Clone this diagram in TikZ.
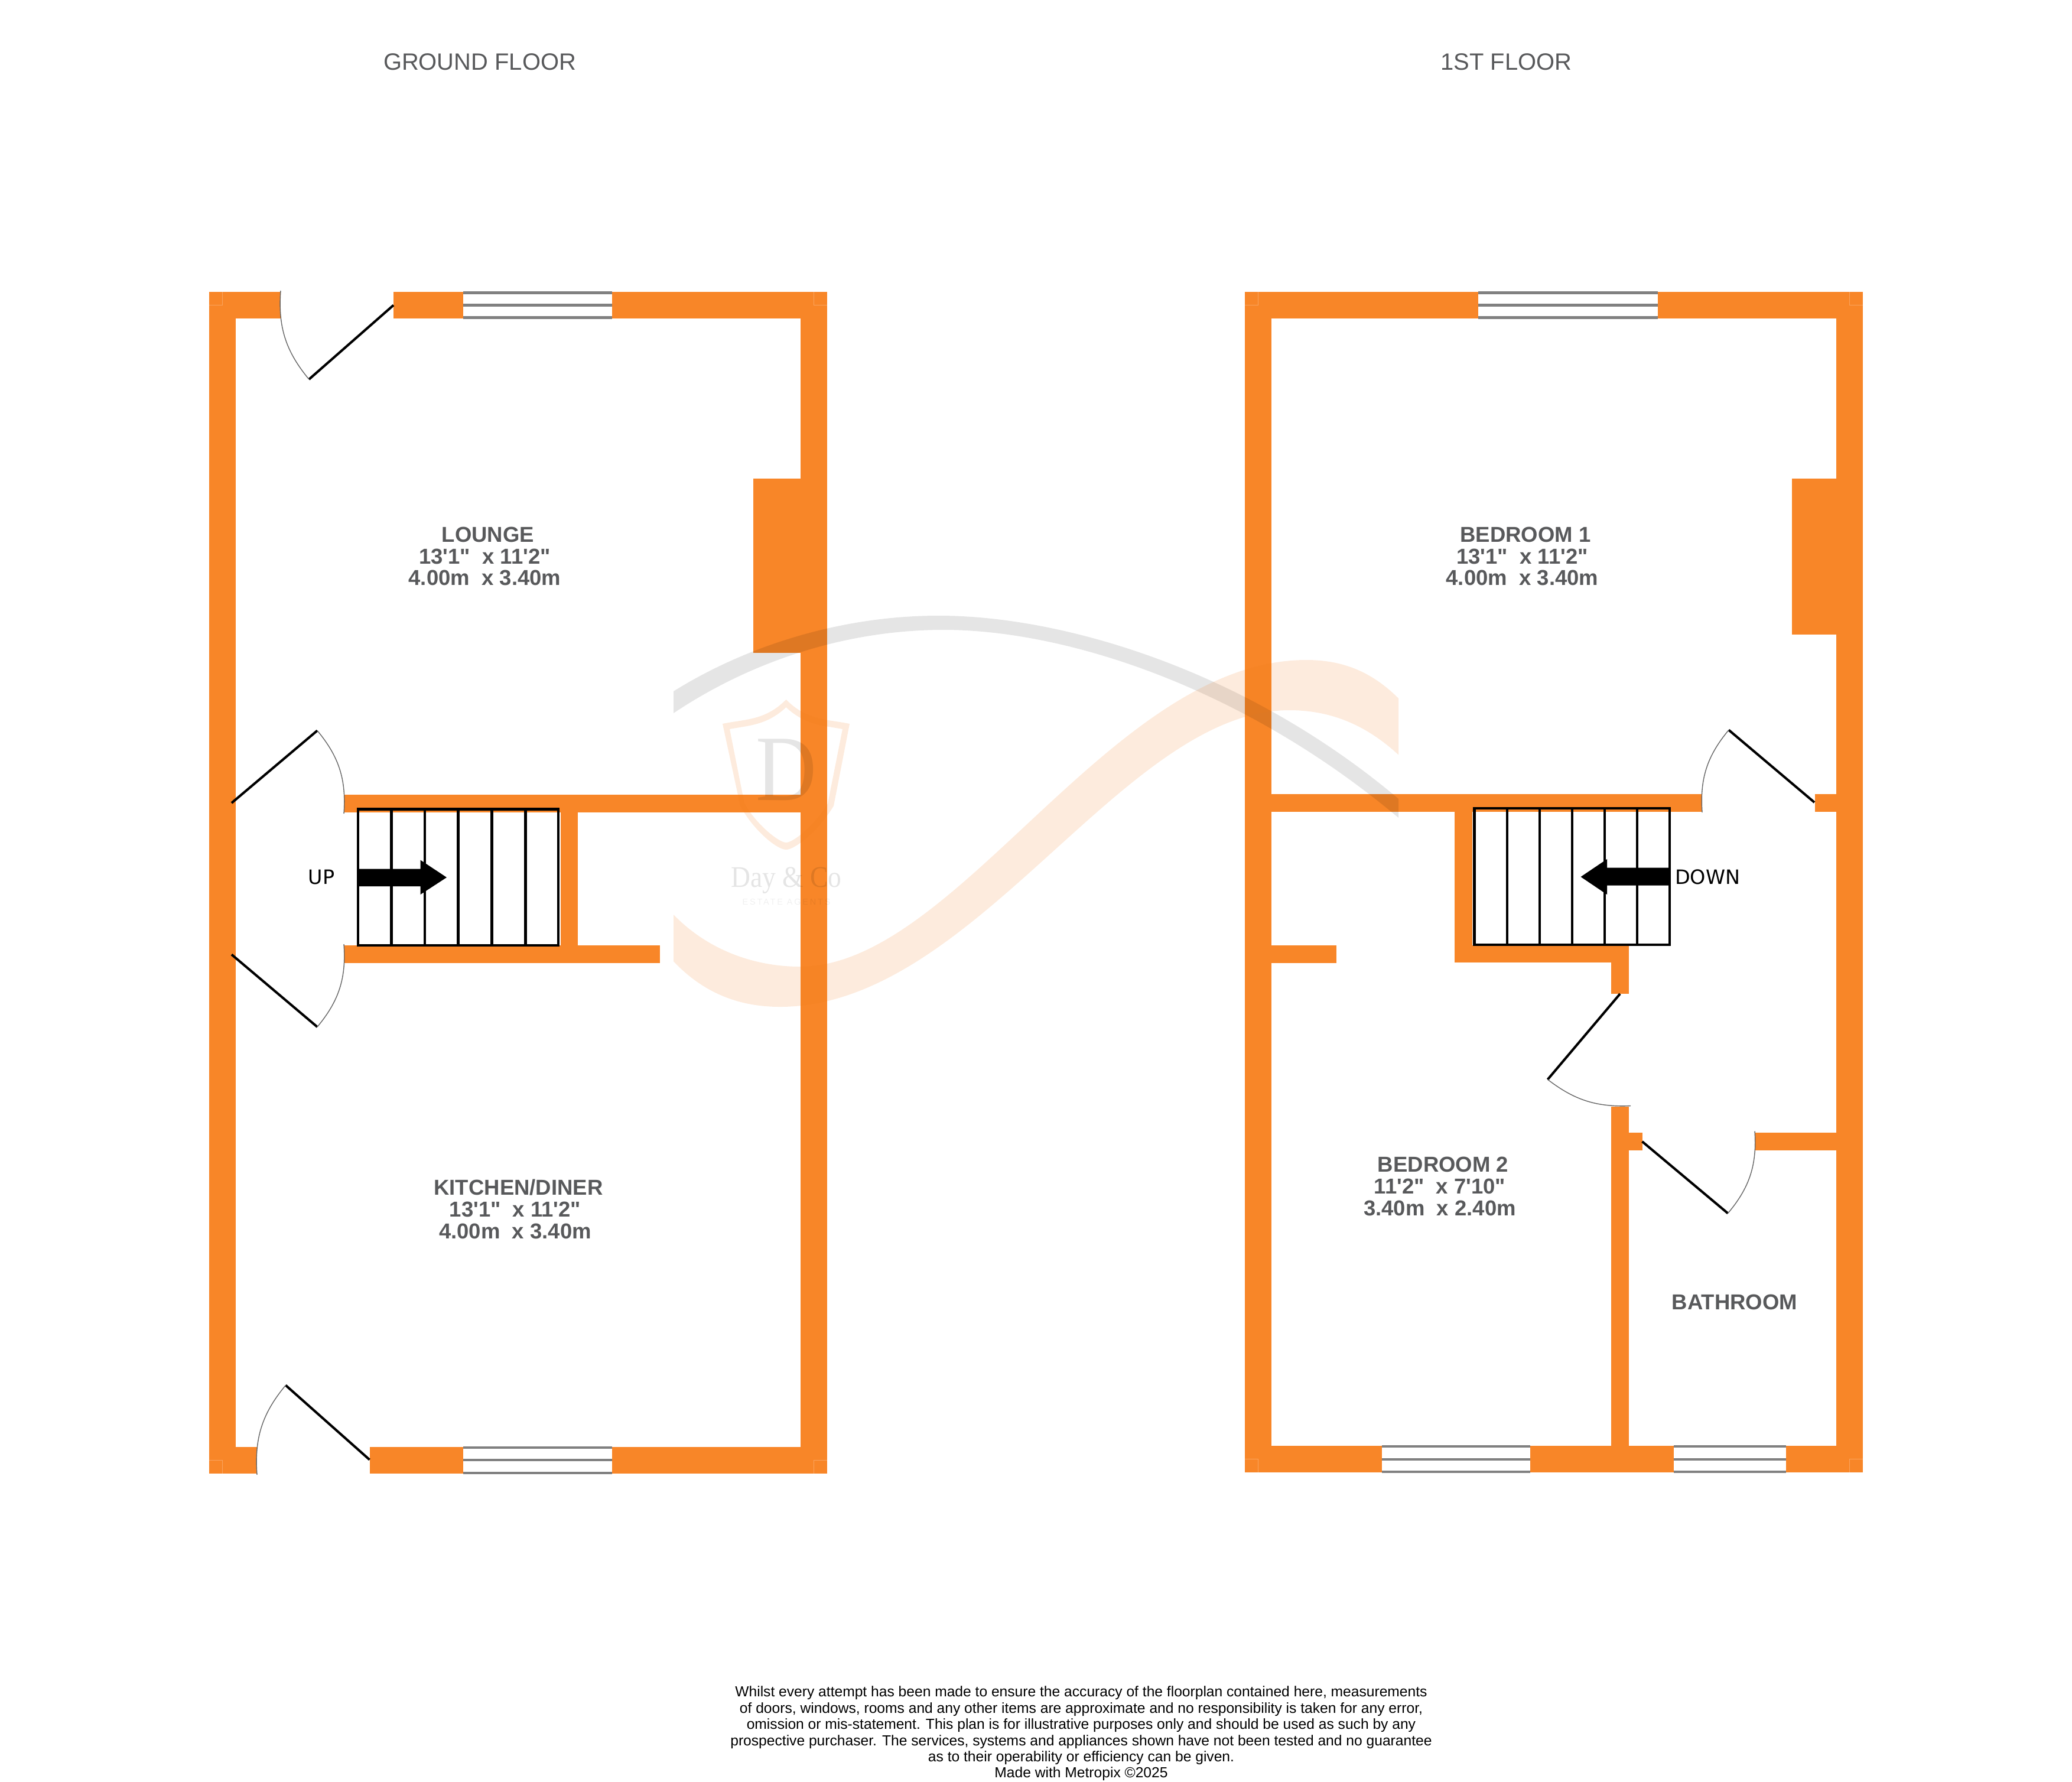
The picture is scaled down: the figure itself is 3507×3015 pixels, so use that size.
\documentclass[tikz,border=0pt]{standalone}
\usepackage{fontspec}
\usepackage{tikz}
\newfontfamily\planfont[Ligatures=TeXOff]{Liberation Sans}
\newfontfamily\stairfont{DejaVu Sans}
\newfontfamily\markfont[FakeStretch=0.9]{Liberation Serif}
\newfontfamily\markspaced[LetterSpace=20]{Liberation Sans}
\definecolor{wallorange}{HTML}{F88628}
\definecolor{labelgrey}{HTML}{58595B}
\definecolor{markorange}{HTML}{F07A18}
\tikzset{
  wall/.style={fill=wallorange},
  wallseam/.style={draw=wallorange!75!white,line width=0.25pt},
  glazing/.style={draw=black!50,line width=1.15pt},
  doorleaf/.style={draw=black,line width=1.15pt},
  doorswing/.style={draw=black!60,line width=0.4pt},
  stairline/.style={draw=black,line width=1.25pt},
  plantitle/.style={inner sep=0,text=labelgrey,font=\planfont\fontsize{11.35}{14}\selectfont},
  roomlabel/.style={inner sep=0,align=center,text=labelgrey,font=\planfont\bfseries\fontsize{10.38}{10.44}\selectfont},
  stairlabel/.style={inner sep=0,font=\stairfont\fontsize{9.5}{12}\selectfont},
  finetext/.style={inner sep=0,align=center,font=\planfont\fontsize{7}{7.8}\selectfont},
  greymark/.style={fill=black,fill opacity=0.1},
  orangemark/.style={fill=markorange,fill opacity=0.15},
}
\begin{document}
\begin{tikzpicture}[x=0.01cm,y=-0.01cm]

\useasboundingbox (0,0) rectangle (3507,3015);

\begin{scope}

    \fill[wall] (354,494) rectangle (475,539);
    \fill[wall] (666,494) rectangle (784,539);
    \fill[wall] (1036,494) rectangle (1400,539);
    \fill[wall] (354,494) rectangle (399,2494);
    \fill[wall] (1355,494) rectangle (1400,2494);
    \fill[wall] (354,2449) rectangle (435,2494);
    \fill[wall] (626,2449) rectangle (784,2494);
    \fill[wall] (1036,2449) rectangle (1400,2494);
    \fill[wall] (1275,810) rectangle (1355,1105);
    \fill[wall] (582,1345) rectangle (1355,1375);
    \fill[wall] (582,1600) rectangle (1117,1630);
    \fill[wall] (948.5,1345) rectangle (978,1630);

    \draw[wallseam] (354,516.5) -- (376.5,516.5) -- (376.5,494);
    \draw[wallseam] (1400,516.5) -- (1377.5,516.5) -- (1377.5,494);
    \draw[wallseam] (354,2471) -- (376.5,2471) -- (376.5,2494);
    \draw[wallseam] (1400,2471) -- (1377.5,2471) -- (1377.5,2494);

    \draw[glazing] (784,495.5) -- (1036,495.5);
    \draw[glazing] (784,516.5) -- (1036,516.5);
    \draw[glazing] (784,537.5) -- (1036,537.5);
    \draw[glazing] (784,2450) -- (1036,2450);
    \draw[glazing] (784,2471) -- (1036,2471);
    \draw[glazing] (784,2492.5) -- (1036,2492.5);

    \coordinate (gfrontstart) at (475,492);
    \coordinate (gfrontend) at (523,642);
    \coordinate (gfronthinge) at (666,516.5);
    \draw[doorleaf] (gfronthinge) -- (gfrontend);
    \draw[doorswing] (gfrontstart) to[bend right=22] (gfrontend);

    \coordinate (gupperstart) at (537,1236.5);
    \coordinate (gupperend) at (582,1377);
    \coordinate (gupperhinge) at (392,1359);
    \draw[doorleaf] (gupperhinge) -- (gupperstart);
    \draw[doorswing] (gupperstart) to[bend left=22] (gupperend);

    \coordinate (glowerstart) at (582,1598);
    \coordinate (glowerend) at (537,1738);
    \coordinate (glowerhinge) at (392,1615.5);
    \draw[doorleaf] (glowerhinge) -- (glowerend);
    \draw[doorswing] (glowerstart) to[bend left=22] (glowerend);

    \coordinate (gbackstart) at (483.5,2344.5);
    \coordinate (gbackend) at (435,2496);
    \coordinate (gbackhinge) at (625.5,2470.5);
    \draw[doorleaf] (gbackhinge) -- (gbackstart);
    \draw[doorswing] (gbackstart) to[bend right=22] (gbackend);

    \draw[stairline] (606,1369.5) rectangle (945,1600);
    \draw[stairline] (662.5,1369.5) -- (662.5,1600);
    \draw[stairline] (719,1369.5) -- (719,1600);
    \draw[stairline] (775.5,1369.5) -- (775.5,1600);
    \draw[stairline] (832.5,1369.5) -- (832.5,1600);
    \draw[stairline] (889.5,1369.5) -- (889.5,1600);
    \fill[black] (606,1470.5) -- (711.5,1470.5) -- (711.5,1455.5) -- (756,1485) -- (711.5,1514) -- (711.5,1500) -- (606,1500) -- cycle;

    \fill[wall] (2107,494) rectangle (2502,539);
    \fill[wall] (2806,494) rectangle (3153,539);
    \fill[wall] (2107,494) rectangle (2152,2492);
    \fill[wall] (3108,494) rectangle (3153,2492);
    \fill[wall] (2107,2447) rectangle (2339,2492);
    \fill[wall] (2590,2447) rectangle (2833,2492);
    \fill[wall] (3022.5,2447) rectangle (3153,2492);
    \fill[wall] (3033,810) rectangle (3108,1073.5);
    \fill[wall] (2152,1343.5) rectangle (2881,1373.5);
    \fill[wall] (3071.5,1343.5) rectangle (3108,1373.5);
    \fill[wall] (2152,1600) rectangle (2262,1629.5);
    \fill[wall] (2462,1343.5) rectangle (2492,1629);
    \fill[wall] (2462,1600) rectangle (2757,1629);
    \fill[wall] (2727,1600) rectangle (2757,1682);
    \fill[wall] (2727,1873) rectangle (2757,2447);
    \fill[wall] (2757,1916.5) rectangle (2779.5,1946.5);
    \fill[wall] (2970,1916.5) rectangle (3108,1946.5);

    \draw[wallseam] (2107,516.5) -- (2129.5,516.5) -- (2129.5,494);
    \draw[wallseam] (3153,516.5) -- (3130.5,516.5) -- (3130.5,494);
    \draw[wallseam] (2107,2469.5) -- (2129.5,2469.5) -- (2129.5,2492);
    \draw[wallseam] (3153,2469.5) -- (3130.5,2469.5) -- (3130.5,2492);

    \draw[glazing] (2502,495.5) -- (2806,495.5);
    \draw[glazing] (2502,516.5) -- (2806,516.5);
    \draw[glazing] (2502,537.5) -- (2806,537.5);
    \draw[glazing] (2339,2448) -- (2590,2448);
    \draw[glazing] (2339,2469.5) -- (2590,2469.5);
    \draw[glazing] (2339,2490.5) -- (2590,2490.5);
    \draw[glazing] (2833,2448) -- (3022.5,2448);
    \draw[glazing] (2833,2469.5) -- (3022.5,2469.5);
    \draw[glazing] (2833,2490.5) -- (3022.5,2490.5);

    \coordinate (fbedstart) at (2926,1235.5);
    \coordinate (fbedend) at (2881,1375);
    \coordinate (fbedhinge) at (3071,1358);
    \draw[doorleaf] (fbedhinge) -- (fbedstart);
    \draw[doorswing] (fbedstart) to[bend right=22] (fbedend);

    \coordinate (fsecstart) at (2619.5,1827);
    \coordinate (fsecend) at (2760,1871.5);
    \coordinate (fsechinge) at (2742,1682);
    \draw[doorleaf] (fsechinge) -- (fsecstart);
    \draw[doorswing] (fsecstart) to[bend right=20] (fsecend);

    \coordinate (fbathstart) at (2924.5,2053.5);
    \coordinate (fbathend) at (2970,1914.5);
    \coordinate (fbathhinge) at (2779.5,1932);
    \draw[doorleaf] (fbathhinge) -- (fbathstart);
    \draw[doorswing] (fbathstart) to[bend right=22] (fbathend);

    \draw[stairline] (2495.5,1368) rectangle (2826,1599);
    \draw[stairline] (2551,1368) -- (2551,1599);
    \draw[stairline] (2606,1368) -- (2606,1599);
    \draw[stairline] (2661,1368) -- (2661,1599);
    \draw[stairline] (2716,1368) -- (2716,1599);
    \draw[stairline] (2771,1368) -- (2771,1599);
    \fill[black] (2826,1468.5) -- (2720,1468.5) -- (2720,1454) -- (2675.5,1484) -- (2720,1514) -- (2720,1498.5) -- (2826,1498.5) -- cycle;

    \fill[greymark] (1140,1170) .. controls (1260,1095) and (1420,1042) .. (1589,1042) .. controls (1800,1042) and (2110,1135) .. (2367,1352) -- (2367,1384) .. controls (2100,1160) and (1800,1066) .. (1597.5,1066) .. controls (1430,1066) and (1270,1120) .. (1140,1207) -- cycle;

    \fill[orangemark] (1140,1548) .. controls (1200,1610) and (1280,1636) .. (1354,1636) .. controls (1620,1636) and (1880,1117) .. (2211,1117) .. controls (2270,1117) and (2320,1135) .. (2367,1182) -- (2367,1277.5) .. controls (2310,1225) and (2250,1202) .. (2182,1202) .. controls (1900,1202) and (1650,1704) .. (1320,1704) .. controls (1250,1704) and (1190,1680) .. (1140,1627) -- cycle;

    \fill[orangemark,even odd rule] (1330.5,1184) .. controls (1295,1220) and (1260,1217) .. (1223,1225) -- (1253,1364) .. controls (1275,1405) and (1315,1438) .. (1330.5,1438) .. controls (1346,1438) and (1386,1405) .. (1411,1364) -- (1438,1225) .. controls (1400,1217) and (1366,1220) .. (1330.5,1184) -- cycle
      (1330.5,1197) .. controls (1298,1228) and (1265,1228) .. (1235,1234) -- (1260,1360) .. controls (1280,1395) and (1318,1426) .. (1330.5,1426) .. controls (1343,1426) and (1381,1395) .. (1401,1360) -- (1426,1234) .. controls (1396,1228) and (1363,1228) .. (1330.5,1197) -- cycle;

\end{scope}

    \node[plantitle] (groundtitle) at (812,105) {GROUND FLOOR};
    \node[plantitle] (firsttitle) at (2549.5,105) {1ST FLOOR};

    \node[roomlabel] (lounge) at (820.5,941.5) {\hspace*{3.1pt}LOUNGE\\13'1"~ x 11'2"\\4.00m~ x 3.40m};
    \node[roomlabel] (kitchen) at (872,2046.5) {\hspace*{3.1pt}KITCHEN/DINER\\13'1"~ x 11'2"\\4.00m~ x 3.40m};
    \node[roomlabel] (bedone) at (2576.5,941.5) {\hspace*{3.1pt}BEDROOM 1\\13'1"~ x 11'2"\\4.00m~ x 3.40m};
    \node[roomlabel] (bedtwo) at (2437,2008) {\hspace*{3.1pt}BEDROOM 2\\11'2"~ x 7'10"\\3.40m~ x 2.40m};
    \node[roomlabel] (bathroom) at (2936,2203.5) {BATHROOM};

    \node[stairlabel] (uplabel) at (544,1484.5) {UP};
    \node[stairlabel] (downlabel) at (2890,1484) {DOWN};

    \node[inner sep=0,text opacity=0.1,font=\markfont\fontsize{45}{45}\selectfont] (markd) at (1330.5,1303) {D};
    \node[inner sep=0,text opacity=0.1,font=\markfont\fontsize{14.4}{16}\selectfont] (markname) at (1331,1490) {Day \& Co};
    \node[inner sep=0,text opacity=0.06,font=\markspaced\fontsize{4.1}{5}\selectfont] (marktrade) at (1331,1527) {ESTATE AGENTS};

    \node[finetext] (disclaimer) at (1830,2934) {Whilst every attempt has been made to ensure the accuracy of the floorplan contained here, measurements\\of doors, windows, rooms and any other items are approximate and no responsibility is taken for any error,\\omission or mis-statement. This plan is for illustrative purposes only and should be used as such by any\\prospective purchaser. The services, systems and appliances shown have not been tested and no guarantee\\as to their operability or efficiency can be given.\\Made with Metropix ©2025};

\end{tikzpicture}
\end{document}
